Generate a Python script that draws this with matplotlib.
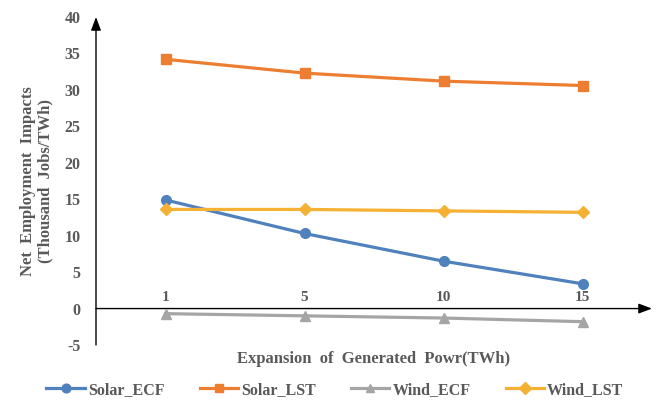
import matplotlib
matplotlib.use("Agg")
import matplotlib.pyplot as plt
import numpy as np

categories = ["1", "5", "10", "15"]
solar_ecf = [14.9, 10.3, 6.5, 3.4]
solar_lst = [34.2, 32.3, 31.2, 30.6]
wind_ecf = [-0.7, -1.0, -1.3, -1.8]
wind_lst = [13.6, 13.6, 13.4, 13.2]
yticks = [-5, 0, 5, 10, 15, 20, 25, 30, 35, 40]

plt.rcParams['font.family'] = ['Liberation Serif', 'DejaVu Serif']
plt.rcParams['font.weight'] = 'bold'
plt.rcParams['axes.labelweight'] = 'bold'
txt = '#595959'

fig = plt.figure(figsize=(6.59, 4.03), dpi=100)
ax = fig.add_axes([96/659, 1-345/403, (652-96)/659, (345-17)/403])
x = np.arange(len(categories))

ax.plot(x, solar_ecf, color='#4F81BD', lw=2.3, marker='o', ms=7, label='Solar_ECF', clip_on=False, zorder=3)
ax.plot(x, solar_lst, color='#ED7D31', lw=2.3, marker='s', ms=7, label='Solar_LST', clip_on=False, zorder=3)
ax.plot(x, wind_ecf, color='#A5A5A5', lw=2.3, marker='^', ms=7, label='Wind_ECF', clip_on=False, zorder=3)
ax.plot(x, wind_lst, color='#F5B133', lw=2.3, marker='D', ms=6.5, label='Wind_LST', clip_on=False, zorder=3)

ax.set_xlim(-0.5, 3.5)
ax.set_ylim(-5, 40)
for s in ax.spines.values():
    s.set_visible(False)

# axis arrows
ax.annotate('', xy=(3.5, 0), xytext=(-0.5, 0),
            arrowprops=dict(arrowstyle='-|>,head_length=0.8,head_width=0.3', color='black', lw=1, shrinkA=0, shrinkB=0),
            annotation_clip=False, zorder=2)
ax.annotate('', xy=(-0.5, 40), xytext=(-0.5, -5),
            arrowprops=dict(arrowstyle='-|>,head_length=0.8,head_width=0.3', color='black', lw=1, shrinkA=0, shrinkB=0),
            annotation_clip=False, zorder=2)

ax.set_yticks(yticks)
ax.set_yticklabels([str(v) for v in yticks])
ax.tick_params(axis='y', length=0, pad=11, labelsize=11.5, labelcolor=txt)

ax.set_xticks(x)
ax.set_xticklabels(categories)
ax.xaxis.set_ticks_position('top')
ax.spines['top'].set_position(('data', 0))
ax.tick_params(axis='x', length=0, pad=3, labelsize=11, labelcolor=txt)
ax.xaxis.set_label_position('bottom')
ax.set_xlabel('Expansion  of  Generated  Powr(TWh)', fontsize=12, fontweight='bold', color=txt, labelpad=4)
ax.set_ylabel('Net  Employment  Impacts\n(Thousand  Jobs/TWh)', fontsize=12, fontweight='bold', color=txt, labelpad=8, linespacing=1.1)

leg = fig.legend(loc='center', bbox_to_anchor=(335/659, 1-390/403), ncol=4, frameon=False,
                 prop={'size': 11.5, 'weight': 'bold'}, handlelength=2.4, handletextpad=0.2, columnspacing=2.2, markerscale=0.9)
for t in leg.get_texts():
    t.set_color(txt)

fig.savefig('out.png', dpi=100)
